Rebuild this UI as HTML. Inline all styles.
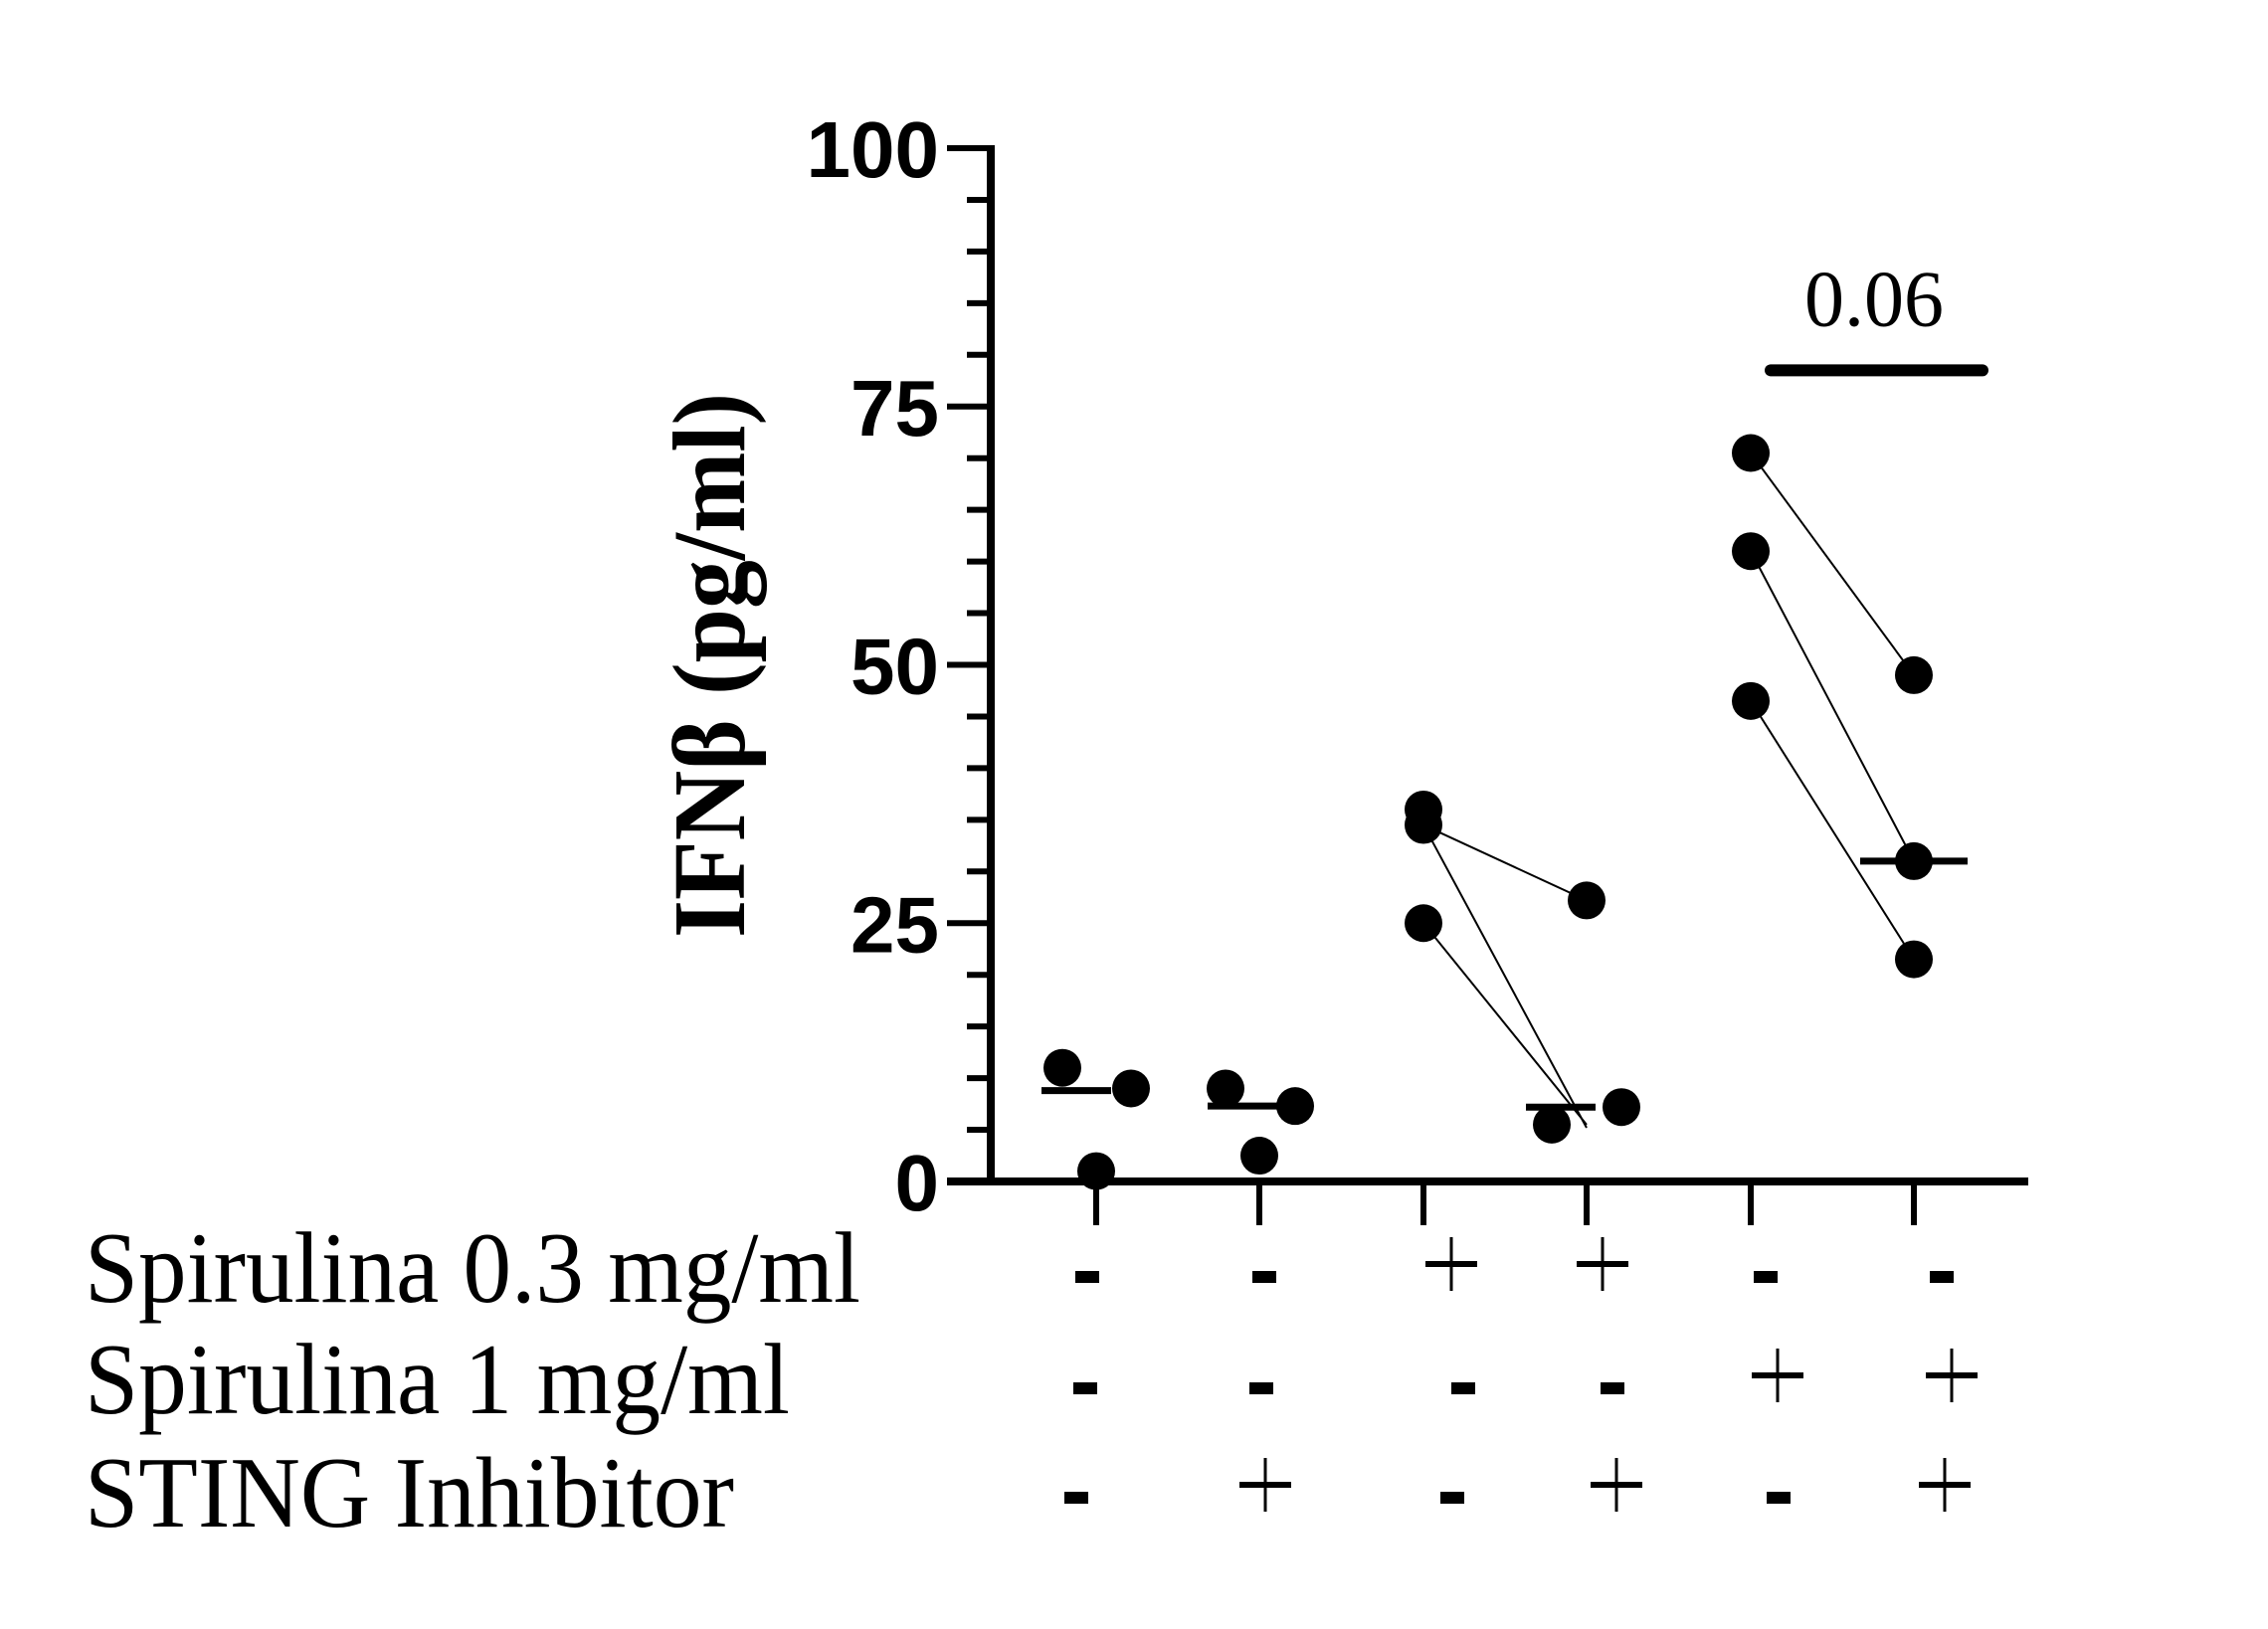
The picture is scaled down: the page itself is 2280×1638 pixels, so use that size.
<!DOCTYPE html>
<html><head><meta charset="utf-8"><style>
html,body{margin:0;padding:0;background:#fff;}
svg{display:block;}
</style></head><body>
<svg id="chart" width="2280" height="1638" viewBox="0 0 2280 1638" xmlns="http://www.w3.org/2000/svg">
<g id="axes"></g>
<g id="marks"></g>
<text transform="translate(748,669) rotate(-90)" text-anchor="middle" font-family="Liberation Serif, serif" font-weight="bold" font-size="104" textLength="548" lengthAdjust="spacingAndGlyphs">IFNβ (pg/ml)</text>
<text x="85" y="1309" font-family="Liberation Serif, serif" font-size="102" textLength="780" lengthAdjust="spacingAndGlyphs">Spirulina 0.3 mg/ml</text>
<text x="85" y="1421" font-family="Liberation Serif, serif" font-size="102" textLength="709" lengthAdjust="spacingAndGlyphs">Spirulina 1 mg/ml</text>
<text x="85" y="1535" font-family="Liberation Serif, serif" font-size="102" textLength="653" lengthAdjust="spacingAndGlyphs">STING Inhibitor</text>
<g id="signs"></g>
</svg>
<script>
// data
const categories = ["c1","c2","c3","c4","c5","c6"];
const g1 = [11, 1, 9];
const g2 = [9, 2.5, 7.3];
const g3 = [36, 34.5, 25];
const g4 = [27.2, 5.5, 7.2];
const g5 = [70.5, 61, 46.5];
const g6 = [49, 31, 21.5];
const medians = [8.8, 7.3, 34.5, 7.2, 61, 31];
const pairs34 = [[34.5, 27.2], [34.5, 5.2], [25, 5.5]];
const pairs56 = [[70.5, 49], [61, 31], [46.5, 21.5]];
const yTicks = [0, 25, 50, 75, 100];
const sigValue = 78.5;
const sigLabel = "0.06";
const row1 = ["-","-","+","+","-","-"];
const row2 = ["-","-","-","-","+","+"];
const row3 = ["-","+","-","+","-","+"];

const NS = "http://www.w3.org/2000/svg";
const catX = [1102,1266,1431,1595,1760,1924];
const AX = 996;
const X = i => catX[i];
const Y = v => 1188 - v * (1188 - 149) / 100;
function mk(tag, attrs, parent){ const e=document.createElementNS(NS,tag); for(const k in attrs) e.setAttribute(k,attrs[k]); parent.appendChild(e); return e; }
const axes=document.getElementById('axes'), marks=document.getElementById('marks'), signs=document.getElementById('signs');

let el = mk('line',{x1:AX,y1:Y(100)-3,x2:AX,y2:Y(0)+3,stroke:'#000','stroke-width':8},axes);


el = mk('line',{x1:952,y1:Y(0),x2:2039,y2:Y(0),stroke:'#000','stroke-width':8},axes);


for(let v=0; v<=100; v+=5){
  const major = v%25===0;
  el = mk('line',{x1:major?952:972,y1:Y(v),x2:AX,y2:Y(v),stroke:'#000','stroke-width':6},axes);
  
  
}
yTicks.forEach(v=>{
  const t = mk('text',{x:944,y:Y(v)+29,'text-anchor':'end','font-family':'Liberation Sans, sans-serif','font-weight':'bold','font-size':80},axes);
  t.textContent = String(v);
  
  
});
categories.forEach((c,i)=>{
  el = mk('line',{x1:X(i),y1:Y(0),x2:X(i),y2:1232,stroke:'#000','stroke-width':6},axes);
  
  
});

pairs34.forEach(p=>{
  el = mk('line',{x1:X(2),y1:Y(p[0]),x2:X(3),y2:Y(p[1]),stroke:'#000','stroke-width':2},marks);
  
  
});
pairs56.forEach(p=>{
  el = mk('line',{x1:X(4),y1:Y(p[0]),x2:X(5),y2:Y(p[1]),stroke:'#000','stroke-width':2},marks);
  
  
});
const groups=[g1,g2,g3,g4,g5,g6];
const jitter=[[-34,0,35],[-34,0,36],[0,0,0],[0,-35,35],[0,0,0],[0,0,0]];
groups.forEach((g,i)=>{
  g.forEach((v,j)=>{
    el = mk('circle',{cx:X(i)+jitter[i][j],cy:Y(v),r:19,fill:'#000'},marks);
    
    
  });
});
const medHalf=[35,35,0,35,0,54];
medians.forEach((m,i)=>{
  if(!medHalf[i]) return;
  const off = i===0?-20:(i===1?-17:(i===3?-26:0));
  el = mk('line',{x1:X(i)+off-medHalf[i],y1:Y(m),x2:X(i)+off+medHalf[i],y2:Y(m),stroke:'#000','stroke-width':7},marks);
  
  
});
el = mk('line',{x1:1780,y1:Y(sigValue),x2:1993,y2:Y(sigValue),stroke:'#000','stroke-width':12,'stroke-linecap':'round'},marks);


el = mk('text',{x:1884,y:Y(sigValue)-45,'text-anchor':'middle','font-family':'Liberation Serif, serif','font-size':80},marks);
el.textContent = sigLabel;



const rowY=[1280,1392,1502];
const signX=[[1093,1271,1459,1611,1775,1952],[1091,1268,1471,1621,1787,1962],[1082,1272,1460,1625,1788,1955]];
[row1,row2,row3].forEach((row,r)=>{
  row.forEach((s,i)=>{
    const cx=signX[r][i], cy=rowY[r];
    const g=mk('g',{},signs);
    
    
    if(s==='+'){
      mk('rect',{x:cx-26,y:cy-12,width:52,height:6,fill:'#000'},g);
      mk('rect',{x:cx-1.5,y:cy-36,width:3,height:54,fill:'#000'},g);
    } else {
      mk('rect',{x:cx-12,y:cy-2,width:24,height:12,fill:'#000'},g);
    }
  });
});
</script>
</body></html>
